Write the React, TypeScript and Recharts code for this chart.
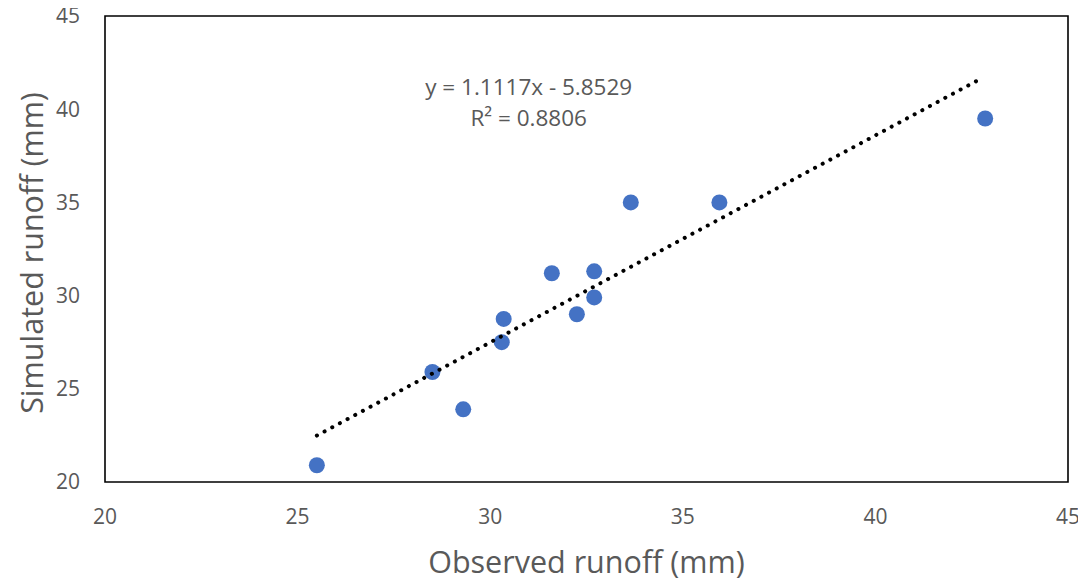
import React from "react";
import {
  ScatterChart,
  Scatter,
  XAxis,
  YAxis,
  ReferenceArea,
  ReferenceDot,
  Label,
} from "recharts";

const observed = [25.5, 28.5, 29.3, 30.3, 30.35, 31.6, 32.25, 32.7, 32.7, 33.65, 35.95, 42.85];
const simulated = [20.9, 25.9, 23.9, 27.5, 28.75, 31.2, 29.0, 31.3, 29.9, 35.0, 35.0, 39.5];

const trendX = [25.5, 42.75];
const trendY = [22.49, 41.65];

const xTicks = [20, 25, 30, 35, 40, 45];
const yTicks = [20, 25, 30, 35, 40, 45];

const equationText = "y = 1.1117x - 5.8529";
const r2Text = "R² = 0.8806";
const equationPos = { x: 31, y: 40.4 };

const xTitle = "Observed runoff (mm)";
const yTitle = "Simulated runoff (mm)";

const points = observed.map((x, i) => ({ x, y: simulated[i] }));
const trend = trendX.map((x, i) => ({ x, y: trendY[i] }));

const FONT = "'Open Sans', 'Liberation Sans', sans-serif";
const GREY = "#595959";

export default function App() {
  return (
    <div style={{ marginTop: -8, width: 1078, height: 582 }}>
      <ScatterChart
        width={1078}
        height={582}
        margin={{ top: 16, right: 18, bottom: 0, left: 0 }}
        style={{ fontFamily: FONT, overflow: "visible" }}
      >
        <XAxis
          type="number"
          dataKey="x"
          domain={[20, 45]}
          ticks={xTicks}
          interval={0}
          axisLine={false}
          tickLine={false}
          tickSize={0}
          tickMargin={27}
          height={100}
          tick={{ fill: GREY, fontSize: 21, fontFamily: FONT }}
          allowDataOverflow
        >
          <Label
            content={(props: any) => {
              const vb = props.viewBox;
              return (
                <text
                  x={vb.x + vb.width / 2}
                  y={vb.y + 91}
                  textAnchor="middle"
                  fill={GREY}
                  fontSize={30.5}
                  fontFamily={FONT}
                >
                  {xTitle}
                </text>
              );
            }}
          />
        </XAxis>
        <YAxis
          type="number"
          dataKey="y"
          domain={[20, 45]}
          ticks={yTicks}
          interval={0}
          axisLine={false}
          tickLine={false}
          tickSize={0}
          tickMargin={25}
          width={97}
          tick={{ fill: GREY, fontSize: 21, fontFamily: FONT }}
          allowDataOverflow
        >
          <Label
            content={(props: any) => {
              const vb = props.viewBox;
              const cx = vb.x + 23;
              const cy = vb.y + vb.height / 2 + 4;
              return (
                <text
                  x={cx}
                  y={cy}
                  textAnchor="middle"
                  dominantBaseline="central"
                  transform={`rotate(-90 ${cx} ${cy})`}
                  fill={GREY}
                  fontSize={30.5}
                  fontFamily={FONT}
                >
                  {yTitle}
                </text>
              );
            }}
          />
        </YAxis>
        <ReferenceArea
          x1={20}
          x2={45}
          y1={20}
          y2={45}
          fill="none"
          fillOpacity={0}
          stroke="#000"
          strokeWidth={1.6}
          ifOverflow="visible"
        />
        <Scatter
          data={points}
          fill="#4472C4"
          isAnimationActive={false}
          shape={(p: any) => (
            <circle cx={p.cx} cy={p.cy} r={8} fill="#4472C4" />
          )}
        />
        <Scatter
          data={trend}
          isAnimationActive={false}
          shape={() => <g />}
          line={{
            stroke: "#000",
            strokeWidth: 4,
            strokeDasharray: "0.1 8.6",
            strokeLinecap: "round",
          }}
          lineType="joint"
        />
        <ReferenceDot
          x={equationPos.x}
          y={equationPos.y}
          r={0}
          fill="none"
          stroke="none"
          ifOverflow="visible"
        >
          <Label
            content={(props: any) => {
              const vb = props.viewBox;
              const cx = vb.cx ?? vb.x + (vb.width || 0) / 2;
              const cy = vb.cy ?? vb.y + (vb.height || 0) / 2;
              return (
                <g>
                  <text
                    x={cx}
                    y={cy - 15}
                    textAnchor="middle"
                    dominantBaseline="central"
                    fill={GREY}
                    fontSize={22.5}
                    fontFamily={FONT}
                  >
                    {equationText}
                  </text>
                  <text
                    x={cx}
                    y={cy + 16}
                    textAnchor="middle"
                    dominantBaseline="central"
                    fill={GREY}
                    fontSize={22.5}
                    fontFamily={FONT}
                  >
                    {r2Text}
                  </text>
                </g>
              );
            }}
          />
        </ReferenceDot>
      </ScatterChart>
    </div>
  );
}
